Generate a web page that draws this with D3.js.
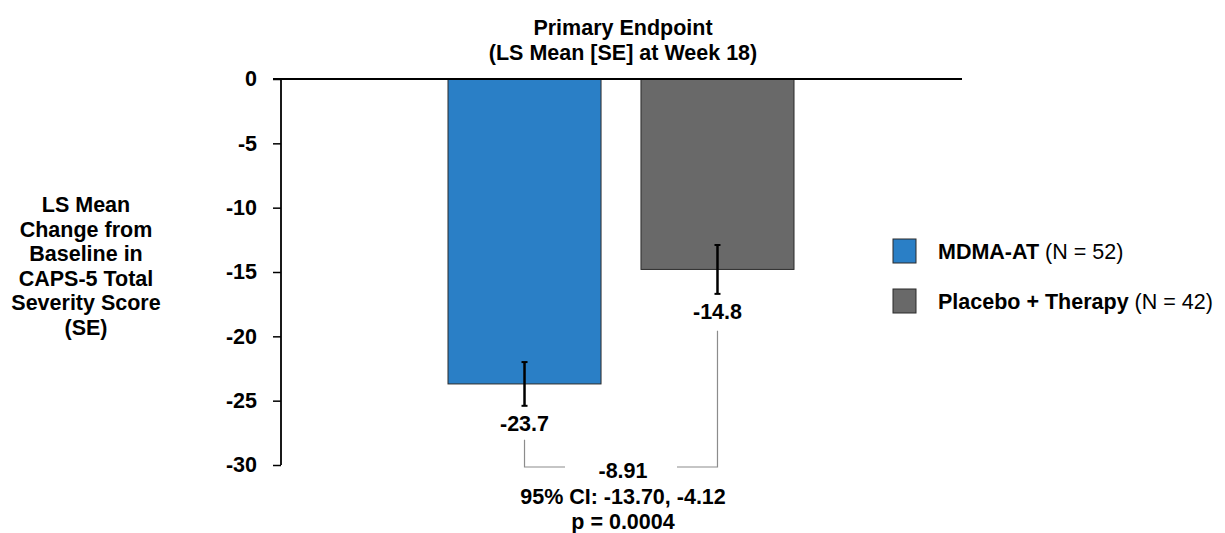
<!DOCTYPE html>
<html>
<head>
<meta charset="utf-8">
<script src="https://cdn.jsdelivr.net/npm/d3@7"></script>
<style>
  body { margin: 0; background: #fff; }
  svg { font-family: "Liberation Sans", Arial, sans-serif; }
  .bold { font-weight: bold; }
</style>
</head>
<body>
<svg id="chart" width="1225" height="533"></svg>
<script>
// data
var groups = ['MDMA-AT', 'Placebo + Therapy'];
var groupN = ['(N = 52)', '(N = 42)'];
var means = [-23.7, -14.8];
var ses = [1.7, 1.9];
var meanLabels = ['-23.7', '-14.8'];
var yTicks = [0, -5, -10, -15, -20, -25, -30];
var diffLines = ['-8.91', '95% CI: -13.70, -4.12', 'p = 0.0004'];
var titleLines = ['Primary Endpoint', '(LS Mean [SE] at Week 18)'];
var yLabelLines = ['LS Mean', 'Change from', 'Baseline in', 'CAPS-5 Total', 'Severity Score', '(SE)'];

var colors = {blue: '#2a7fc6', gray: '#696969', outline: '#2b2b2b', bracket: '#8c8c8c'};
var barColors = [colors.blue, colors.gray];
var fontSize = 21.5;

var svg = d3.select('#chart');
var axisX = 281;

var y = d3.scaleLinear()
    .domain([0, -30])
    .range([79, 465]);

var x = d3.scaleBand()
    .domain(groups)
    .range([448, 794])
    .paddingInner(0.207)
    .paddingOuter(0);

// title
svg.append('text')
    .attr('class', 'bold')
    .attr('text-anchor', 'middle')
    .attr('font-size', fontSize)
    .selectAll('tspan')
    .data(titleLines)
    .enter().append('tspan')
    .attr('x', 623)
    .attr('y', function(d, i) { return 35 + i * 24.5; })
    .text(function(d) { return d; });

// y axis label
svg.append('text')
    .attr('class', 'bold')
    .attr('text-anchor', 'middle')
    .attr('font-size', fontSize)
    .selectAll('tspan')
    .data(yLabelLines)
    .enter().append('tspan')
    .attr('x', 86)
    .attr('y', function(d, i) { return 212 + i * 24.6; })
    .text(function(d) { return d; });

// bars
svg.selectAll('rect.bar')
    .data(groups)
    .enter().append('rect')
    .attr('class', 'bar')
    .attr('x', function(d) { return x(d); })
    .attr('y', y(0))
    .attr('width', x.bandwidth())
    .attr('height', function(d, i) { return y(means[i]) - y(0); })
    .attr('fill', function(d, i) { return barColors[i]; })
    .attr('stroke', colors.outline)
    .attr('stroke-width', 1);

// y axis
var yAxis = d3.axisLeft(y)
    .tickValues(yTicks)
    .tickSize(8)
    .tickPadding(16)
    .tickFormat(function(d) { return String(d); });

var gAxis = svg.append('g')
    .attr('transform', 'translate(' + axisX + ',0)')
    .call(yAxis);
gAxis.select('.domain').attr('stroke', '#000').attr('stroke-width', 1.8)
    .attr('d', 'M0,' + y(0) + 'V' + y(-30));
gAxis.selectAll('.tick line').attr('stroke', '#000').attr('stroke-width', 1.5);
gAxis.selectAll('.tick text')
    .attr('class', 'bold')
    .attr('font-size', fontSize)
    .attr('font-family', '"Liberation Sans", Arial, sans-serif')
    .attr('fill', '#000');

// zero line
svg.append('line')
    .attr('x1', axisX - 8).attr('x2', 962)
    .attr('y1', y(0)).attr('y2', y(0))
    .attr('stroke', '#000')
    .attr('stroke-width', 1.8);

// error bars
var err = svg.append('g');
groups.forEach(function(g, i) {
    var cx = x(g) + x.bandwidth() / 2;
    var top = y(means[i] + ses[i]);
    var bot = y(means[i] - ses[i]);
    err.append('line').attr('x1', cx).attr('x2', cx).attr('y1', top).attr('y2', bot)
        .attr('stroke', '#000').attr('stroke-width', 2.5);
    [top, bot].forEach(function(v) {
        err.append('line').attr('x1', cx - 3).attr('x2', cx + 3).attr('y1', v).attr('y2', v)
            .attr('stroke', '#000').attr('stroke-width', 2);
    });
    svg.append('text')
        .attr('class', 'bold')
        .attr('text-anchor', 'middle')
        .attr('font-size', fontSize)
        .attr('x', cx)
        .attr('y', bot + 25)
        .text(meanLabels[i]);
});

// difference bracket
var cxA = x(groups[0]) + x.bandwidth() / 2;
var cxB = x(groups[1]) + x.bandwidth() / 2;
var midX = (cxA + cxB) / 2;
var bracketY = y(-30) + 2;
var topA = y(means[0] - ses[0]) + 34;
var topB = y(means[1] - ses[1]) + 37;
var gap = 56;
svg.append('path')
    .attr('d', 'M' + cxA + ',' + topA + 'V' + bracketY + 'H' + (midX - gap))
    .attr('fill', 'none').attr('stroke', colors.bracket).attr('stroke-width', 1.2);
svg.append('path')
    .attr('d', 'M' + (midX + gap) + ',' + bracketY + 'H' + cxB + 'V' + topB)
    .attr('fill', 'none').attr('stroke', colors.bracket).attr('stroke-width', 1.2);

svg.append('text')
    .attr('class', 'bold')
    .attr('text-anchor', 'middle')
    .attr('font-size', fontSize)
    .selectAll('tspan')
    .data(diffLines)
    .enter().append('tspan')
    .attr('x', midX + 2)
    .attr('y', function(d, i) { return 478 + i * 25.5; })
    .text(function(d) { return d; });

// legend
var legend = svg.append('g');
groups.forEach(function(g, i) {
    var ly = 239 + i * 50;
    legend.append('rect')
        .attr('x', 893).attr('y', ly)
        .attr('width', 23).attr('height', 24)
        .attr('fill', barColors[i])
        .attr('stroke', colors.outline)
        .attr('stroke-width', 1);
    var t = legend.append('text')
        .attr('x', 938).attr('y', ly + 19.5)
        .attr('font-size', fontSize);
    t.append('tspan').attr('class', 'bold').text(g);
    t.append('tspan').text(' ' + groupN[i]);
});
</script>
</body>
</html>
